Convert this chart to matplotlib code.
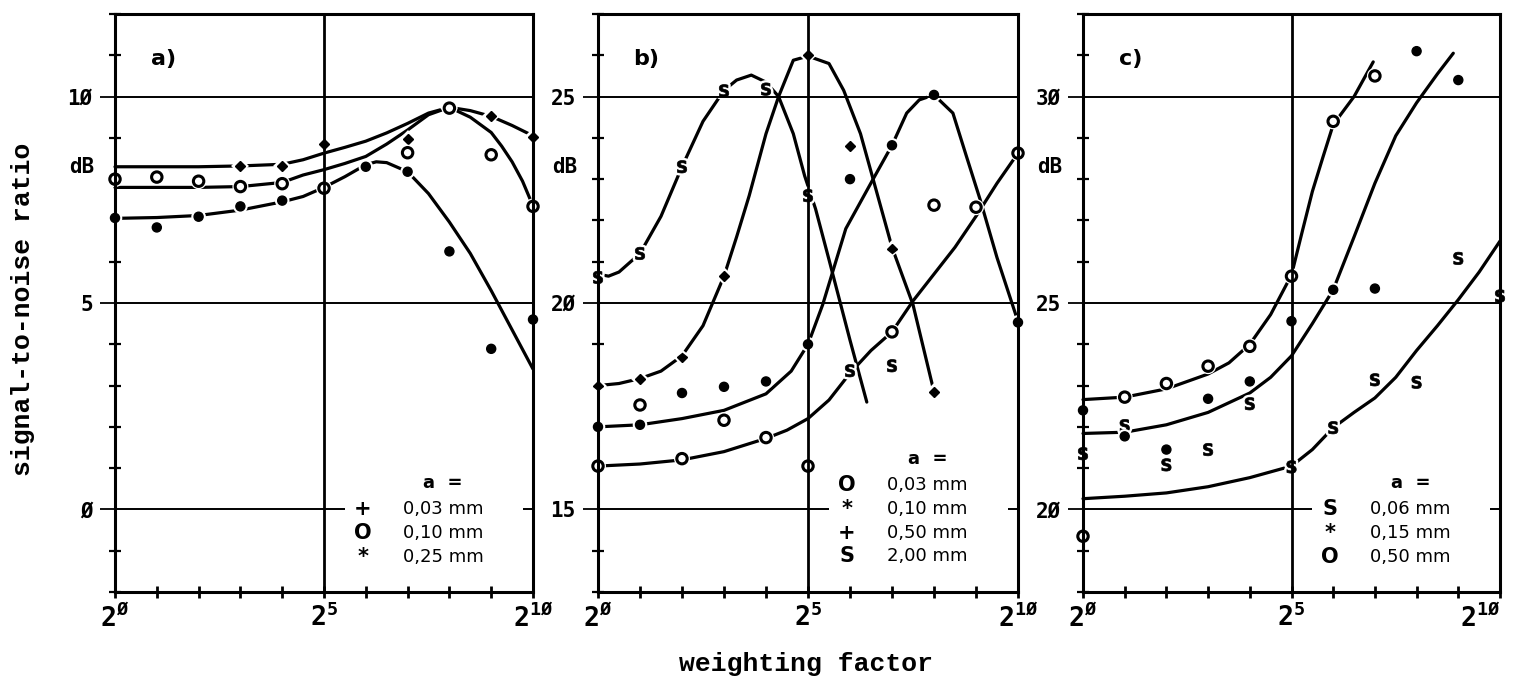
import numpy as np
import matplotlib.pyplot as plt
import matplotlib.patheffects as pe
from matplotlib.patches import Rectangle

plt.rcParams['font.family'] = ['DejaVu Sans Mono']
plt.rcParams['font.weight'] = 'bold'
plt.rcParams['mathtext.fontset'] = 'custom'
plt.rcParams['mathtext.bf'] = 'DejaVu Sans Mono:bold'
plt.rcParams['mathtext.rm'] = 'DejaVu Sans Mono:bold'

# x = exponent of the weighting factor (2^0 .. 2^10)
# ---- panel a) ----
a_plus_cx = [0, 1, 2, 3, 4, 4.5, 5, 5.5, 6, 6.5, 7, 7.5, 8, 8.5, 9, 9.5, 10]
a_plus_cy = [8.3, 8.3, 8.3, 8.32, 8.36, 8.47, 8.63, 8.77, 8.92, 9.12, 9.35, 9.6, 9.74, 9.66, 9.52, 9.3, 9.05]
a_o_cx = [0, 1, 2, 3, 4, 4.5, 5, 5.5, 6, 6.5, 7, 7.5, 8, 8.5, 9, 9.25, 9.5, 9.75, 10]
a_o_cy = [7.8, 7.8, 7.8, 7.82, 7.92, 8.1, 8.23, 8.38, 8.55, 8.85, 9.19, 9.56, 9.74, 9.5, 9.13, 8.8, 8.42, 7.95, 7.35]
a_star_cx = [0, 1, 2, 3, 4, 4.5, 5, 5.5, 6, 6.25, 6.5, 7, 7.5, 8, 8.5, 9, 9.5, 10]
a_star_cy = [7.05, 7.07, 7.12, 7.25, 7.45, 7.58, 7.8, 8.06, 8.35, 8.42, 8.4, 8.18, 7.65, 6.96, 6.2, 5.3, 4.35, 3.4]

a_plus_x = [3, 4, 5, 7, 8, 9, 10]
a_plus_y = [8.32, 8.32, 8.85, 8.97, 9.72, 9.52, 9.02]
a_o_x = [0, 1, 2, 3, 4, 5, 7, 8, 9, 10]
a_o_y = [8.0, 8.05, 7.95, 7.82, 7.89, 7.78, 8.64, 9.72, 8.59, 7.34]
a_star_x = [0, 1, 2, 3, 4, 6, 7, 8, 9, 10]
a_star_y = [7.06, 6.83, 7.09, 7.34, 7.48, 8.3, 8.18, 6.25, 3.89, 4.6]

# ---- panel b) ----
b_s_cx = [0, 0.25, 0.5, 1, 1.5, 2, 2.5, 3, 3.3, 3.65, 4, 4.3, 4.65, 4.92, 5.18, 5.5, 6.0, 6.4]
b_s_cy = [20.7, 20.65, 20.75, 21.2, 22.1, 23.3, 24.4, 25.15, 25.4, 25.52, 25.35, 25.0, 24.1, 23.08, 22.28, 21.05, 19.1, 17.6]
b_plus_cx = [0, 0.5, 1, 1.5, 2, 2.5, 3, 3.3, 3.6, 4.0, 4.3, 4.65, 5, 5.5, 5.85, 6.25, 6.55, 7, 7.5, 8]
b_plus_cy = [18.0, 18.05, 18.17, 18.35, 18.72, 19.45, 20.65, 21.6, 22.6, 24.1, 25.0, 25.88, 25.98, 25.8, 25.15, 24.1, 23.0, 21.35, 19.96, 17.85]
b_star_cx = [0, 1, 2, 3, 4, 4.6, 5, 5.35, 5.9, 6.55, 7, 7.35, 7.65, 8, 8.45, 8.77, 9.1, 9.5, 10]
b_star_cy = [17.0, 17.05, 17.2, 17.4, 17.8, 18.35, 19.0, 19.96, 21.8, 23.0, 23.82, 24.6, 24.92, 25.04, 24.6, 23.56, 22.5, 21.1, 19.55]
b_o_cx = [0, 1, 2, 3, 4, 4.5, 5, 5.5, 6, 6.5, 7, 7.5, 8, 8.5, 9, 9.5, 10]
b_o_cy = [16.05, 16.1, 16.2, 16.4, 16.72, 16.92, 17.2, 17.65, 18.3, 18.85, 19.3, 20.05, 20.7, 21.35, 22.1, 22.9, 23.63]

b_s_x = [0, 1, 2, 3, 4, 5, 6, 7]
b_s_y = [20.62, 21.2, 23.3, 25.14, 25.18, 22.6, 18.36, 18.48]
b_plus_x = [0, 1, 2, 3, 5, 6, 7, 8]
b_plus_y = [18.0, 18.16, 18.68, 20.65, 26.0, 23.8, 21.32, 17.84]
b_star_x = [0, 1, 2, 3, 4, 5, 6, 7, 8, 10]
b_star_y = [17.0, 17.05, 17.82, 17.97, 18.1, 19.0, 23.0, 23.82, 25.04, 19.53]
b_o_x = [0, 1, 2, 3, 4, 5, 7, 8, 9, 10]
b_o_y = [16.05, 17.53, 16.23, 17.16, 16.74, 16.05, 19.3, 22.37, 22.32, 23.63]

# ---- panel c) ----
c_o_cx = [0, 1, 2, 3, 3.5, 4, 4.5, 5, 5.25, 5.5, 5.75, 6, 6.5, 6.96]
c_o_cy = [22.66, 22.72, 22.92, 23.28, 23.55, 24.0, 24.72, 25.68, 26.7, 27.7, 28.52, 29.32, 30.0, 30.84]
c_star_cx = [0, 1, 2, 3, 4, 4.5, 5, 5.5, 6, 6.5, 7, 7.5, 8, 8.5, 8.88]
c_star_cy = [21.84, 21.87, 22.05, 22.35, 22.82, 23.2, 23.72, 24.5, 25.32, 26.6, 27.9, 29.05, 29.85, 30.55, 31.05]
c_s_cx = [0, 1, 2, 3, 4, 5, 5.5, 6, 6.5, 7, 7.5, 8, 8.5, 9, 9.5, 10]
c_s_cy = [20.26, 20.32, 20.4, 20.55, 20.77, 21.05, 21.45, 21.98, 22.35, 22.7, 23.2, 23.85, 24.45, 25.08, 25.75, 26.5]

c_s_x = [0, 1, 2, 3, 4, 5, 6, 7, 8, 9, 10]
c_s_y = [21.35, 22.03, 21.08, 21.45, 22.56, 21.03, 21.98, 23.14, 23.08, 26.08, 25.17]
c_star_x = [0, 1, 2, 3, 4, 5, 6, 7, 8, 9]
c_star_y = [22.4, 21.77, 21.45, 22.68, 23.1, 24.56, 25.32, 25.35, 31.1, 30.4]
c_o_x = [0, 1, 2, 3, 4, 5, 6, 7]
c_o_y = [19.35, 22.72, 23.05, 23.47, 23.95, 25.65, 29.4, 30.5]

y_low = [-2, 13, 18]
ytick_labels = [['Ø', '5', '1Ø'], ['15', '2Ø', '25'], ['2Ø', '25', '3Ø']]
panel_names = ['a)', 'b)', 'c)']
legend_symbols = [['+', 'O', '*'], ['O', '*', '+', 'S'], ['S', '*', 'O']]
legend_labels = [['0,03 mm', '0,10 mm', '0,25 mm'],
                 ['0,03 mm', '0,10 mm', '0,50 mm', '2,00 mm'],
                 ['0,06 mm', '0,15 mm', '0,50 mm']]

curves = [
    [(a_plus_cx, a_plus_cy), (a_o_cx, a_o_cy), (a_star_cx, a_star_cy)],
    [(b_s_cx, b_s_cy), (b_plus_cx, b_plus_cy), (b_star_cx, b_star_cy), (b_o_cx, b_o_cy)],
    [(c_o_cx, c_o_cy), (c_star_cx, c_star_cy), (c_s_cx, c_s_cy)],
]
points = [
    [('+', a_plus_x, a_plus_y), ('o', a_o_x, a_o_y), ('*', a_star_x, a_star_y)],
    [('s', b_s_x, b_s_y), ('+', b_plus_x, b_plus_y), ('*', b_star_x, b_star_y), ('o', b_o_x, b_o_y)],
    [('s', c_s_x, c_s_y), ('*', c_star_x, c_star_y), ('o', c_o_x, c_o_y)],
]

marker_style = {
    '+': dict(marker='D', ms=5, mfc='k', mec='k'),
    '*': dict(marker='o', ms=6.5, mfc='k', mec='k'),
    'o': dict(marker='o', ms=7.5, mfc='white', mec='k', mew=2.2),
    's': dict(marker=r'$\mathbf{s}$', ms=9, mfc='k', mec='k', mew=0.5),
}
halo = [pe.withStroke(linewidth=4, foreground='white')]

fig = plt.figure(figsize=(15.15, 6.83), dpi=100)
lefts = [115, 598, 1083]
widths = [418, 420, 417]

for i in range(3):
    ax = fig.add_axes([lefts[i] / 1515, 91 / 683, widths[i] / 1515, 578 / 683])
    lo = y_low[i]
    ax.set_xlim(0, 10)
    ax.set_ylim(lo, lo + 14)
    for s in ax.spines.values():
        s.set_linewidth(2.2)
        s.set_zorder(4)

    ax.set_xticks([0, 5, 10])
    ax.set_xticklabels([r'$\mathbf{2^{Ø}}$', r'$\mathbf{2^{5}}$', r'$\mathbf{2^{1Ø}}$'])
    ax.set_xticks(range(11), minor=True)
    ax.tick_params(axis='x', which='both', direction='inout', length=9, width=2,
                   pad=4, labelsize=19)
    if i == 2:
        # the last label sits at the right edge of the page
        ax.get_xticklabels()[-1].set_horizontalalignment('right')
    ax.set_yticks([lo + 2, lo + 7, lo + 12])
    ax.set_yticklabels(ytick_labels[i])
    ax.set_yticks(np.arange(lo, lo + 15), minor=True)
    ax.tick_params(axis='y', which='major', direction='out', length=11, width=1.3,
                   pad=5, labelsize=15)
    ax.tick_params(axis='y', which='minor', direction='inout', length=8, width=1.6)

    for yv in [lo + 2, lo + 7, lo + 12]:
        ax.axhline(yv, color='k', lw=1.4, zorder=3.5)
    ax.axvline(5, color='k', lw=2.0, zorder=3.5)

    for cx, cy in curves[i]:
        ax.plot(cx, cy, color='k', lw=2.3, zorder=2, clip_on=False,
                solid_capstyle='round')
    for kind, px, py in points[i]:
        ax.plot(px, py, ls='none', zorder=3, clip_on=False, path_effects=halo,
                **marker_style[kind])

    ax.text(1.15, lo + 12.9, panel_names[i], ha='center', va='center',
            fontsize=16, family='DejaVu Sans', weight='bold')
    ax.annotate('dB', xy=(0, lo + 10.3), xycoords=('axes fraction', 'data'),
                xytext=(-15, 0), textcoords='offset points', ha='right',
                va='center', fontsize=15)

    # legend block
    n = len(legend_labels[i])
    row_step = 0.58
    top_row = lo + 2 + (0.6 if n == 4 else 0.0)
    ax.add_patch(Rectangle((5.5, top_row - row_step * (n - 1) - 0.4), 4.25,
                           row_step * n + 1.0, fc='white', ec='none', zorder=4.5))
    ax.text(7.85, top_row + 0.63, 'a  =', ha='center', va='center', fontsize=13,
            family='DejaVu Sans', weight='bold', zorder=5)
    for r in range(n):
        yy = top_row - row_step * r
        ax.text(5.93, yy, legend_symbols[i][r], ha='center', va='center',
                fontsize=15, family='DejaVu Sans', weight='bold', zorder=5)
        ax.text(6.88, yy, legend_labels[i][r], ha='left', va='center',
                fontsize=13, family='DejaVu Sans', weight='normal', zorder=5)

fig.text(23 / 1515, 1 - 309 / 683, 'signal-to-noise ratio', rotation=90,
         ha='center', va='center', family='Liberation Mono', weight='bold', fontsize=19)
fig.text(806 / 1515, 1 - 664 / 683, 'weighting factor', ha='center', va='center',
         family='Liberation Mono', weight='bold', fontsize=19)

fig.savefig('out.png', dpi=100)
